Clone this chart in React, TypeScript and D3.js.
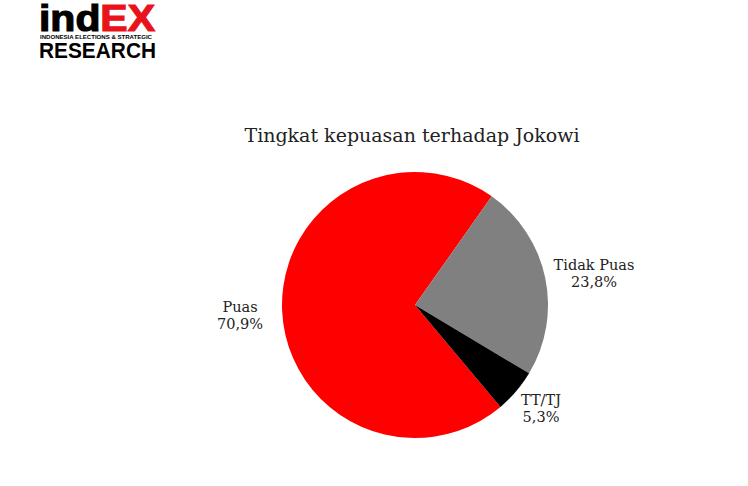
import React from "react";
import * as d3 from "d3";

const categories = ["Puas", "Tidak Puas", "TT/TJ"];
const values = [70.9, 23.8, 5.3];
const valueLabels = ["70,9%", "23,8%", "5,3%"];
const colors = ["#ff0000", "#808080", "#000000"];

const W = 748;
const H = 486;
const cx = 415;
const cy = 305;
const R = 133;

export default function App() {
  const data = categories.map((c, i) => ({ c, v: values[i], label: valueLabels[i], color: colors[i] }));
  const start = (140 * Math.PI) / 180;
  const pie = d3
    .pie<any>()
    .sort(null)
    .value((d) => d.v)
    .startAngle(start)
    .endAngle(start + 2 * Math.PI);
  const arcs = pie(data);
  const arc = d3.arc<any>().innerRadius(0).outerRadius(R);
  const labelPos: [number, number][] = [
    [240, 312],
    [594, 270],
    [541, 405],
  ];
  const serif = "'DejaVu Serif', 'Liberation Serif', serif";
  const sans = "'Liberation Sans', Arial, sans-serif";
  return (
    <svg width={W} height={H} style={{ position: "absolute", left: 0, top: 0, background: "#fff" }}>
      <rect width={W} height={H} fill="#fff" />
      {/* logo */}
      <g>
        <text
          x={39}
          y={31}
          fontFamily={sans}
          fontWeight="900"
          fontSize={37}
          stroke="#000"
          strokeWidth={1.2}
          textLength={116}
          lengthAdjust="spacingAndGlyphs"
        >
          <tspan fill="#000" stroke="#000">ind</tspan>
          <tspan fill="#e8141b" stroke="#e8141b">EX</tspan>
        </text>
        <text x={40} y={39} fontFamily={sans} fontWeight="bold" fontSize={6} fill="#000" textLength={112} lengthAdjust="spacingAndGlyphs">
          INDONESIA ELECTIONS &amp; STRATEGIC
        </text>
        <text x={39} y={58} fontFamily={sans} fontWeight="bold" fontSize={22} fill="#000" textLength={117} lengthAdjust="spacingAndGlyphs">
          RESEARCH
        </text>
      </g>
      <text x={412} y={142} textAnchor="middle" fontFamily={serif} fontSize={19} fill="#222">
        Tingkat kepuasan terhadap Jokowi
      </text>
      <g transform={`translate(${cx},${cy})`}>
        {arcs.map((a, i) => (
          <path key={i} d={arc(a) as string} fill={a.data.color} />
        ))}
      </g>
      {data.map((d, i) => (
        <text key={d.c} x={labelPos[i][0]} y={labelPos[i][1]} textAnchor="middle" fontFamily={serif} fontSize={14.5} fill="#222">
          <tspan x={labelPos[i][0]} dy={0}>{d.c}</tspan>
          <tspan x={labelPos[i][0]} dy={17}>{d.label}</tspan>
        </text>
      ))}
    </svg>
  );
}
